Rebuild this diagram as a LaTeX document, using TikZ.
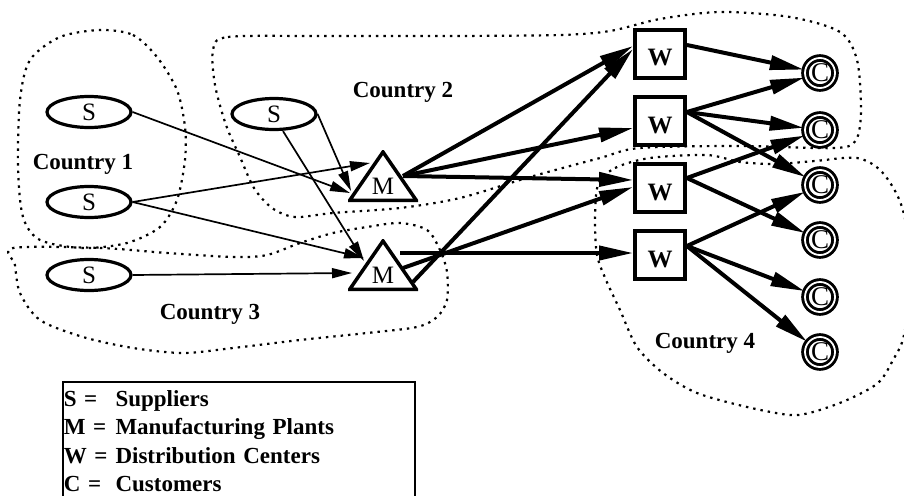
\documentclass[tikz,border=0pt]{standalone}
\usepackage{fontspec}
\setmainfont{Liberation Serif}
\usetikzlibrary{shapes.geometric,arrows.meta}

\newcommand{\netfont}{\fontsize{23}{28.3}\selectfont}
\newcommand{\tagfont}{\fontsize{25}{28}\selectfont}

\tikzset{
  supplier/.style={ellipse, draw, line width=3.2pt, minimum width=84pt, minimum height=31pt, inner sep=0pt,
    font=\tagfont},
  plant/.style={minimum width=70pt, minimum height=52pt, inner sep=0pt, text height=36pt, text depth=0pt,
    font=\tagfont,
    path picture={\draw[line width=3.5pt]
      ([shift={(1.75pt,1.75pt)}]path picture bounding box.south west) --
      ([shift={(-1.75pt,1.75pt)}]path picture bounding box.south east) --
      ([yshift=-2pt]path picture bounding box.north) -- cycle;}},
  depot/.style={rectangle, draw, line width=3.8pt, minimum width=50pt, minimum height=48pt, inner sep=0pt,
    font=\tagfont\bfseries, text height=24pt, text depth=0pt},
  customer/.style={circle, draw, double, double distance=1.8pt, line width=2.9pt, minimum size=30pt, inner sep=0pt,
    font=\fontsize{27}{28}\selectfont},
  region/.style={dash pattern=on 2.4pt off 5pt, line width=2.2pt},
  country/.style={font=\netfont\bfseries},
  feed/.style={line width=1.7pt, -{Triangle[length=20pt,width=10pt]}},
  ship/.style={line width=4pt, -{Triangle[length=34pt,width=14pt]}}
}

\begin{document}
\begin{tikzpicture}[x=1pt, y=-1pt, font=\netfont]
        \useasboundingbox (0,0) rectangle (904,495);

        \begin{scope}
        \clip (0,0) rectangle (904,495);
        \draw [region] plot [smooth cycle] coordinates {(100,30) (133,35) (157,57) (177,90) (185,127) (185,160)
          (177,200) (160,227) (127,243) (83,248) (40,240) (23,217) (18,167) (20,100) (30,60) (60,37)};   %Country 1
        \draw [region] plot [smooth cycle] coordinates {(213,50) (228,37) (320,36) (450,36) (560,35) (610,31)
          (660,19) (720,12) (790,17) (840,32) (857,60) (861,110) (856,140) (835,148) (740,146) (640,148)
          (600,158) (530,177) (460,198) (400,208) (333,213) (295,217) (272,208) (254,188) (240,157)
          (226,125) (215,85)};                                                                         %Country 2
        \draw [region] plot [smooth cycle] coordinates {(13,248) (100,248) (167,253) (233,257) (267,255)
          (300,243) (333,233) (367,227) (400,223) (427,230) (440,250) (447,272) (447,300) (437,317)
          (417,327) (367,333) (300,340) (233,348) (183,353) (133,348) (83,337) (40,320) (20,293) (15,265)}; %Country 3
        \draw [region] plot [smooth cycle] coordinates {(598,185) (615,168) (650,158) (707,155) (740,162)
          (775,164) (815,161) (857,158) (882,172) (902,207) (912,270) (904,335) (893,360) (878,383)
          (847,400) (813,412) (790,415) (747,407) (697,393) (663,373) (637,347) (620,310) (606,280)
          (597,255) (595,220)};                                                                        %Country 4
        \end{scope}

        \node [country] (lab1) at (83,164)  {Country 1};     %
        \node [country] (lab2) at (403,92)  {Country 2};     %
        \node [country] (lab3) at (210,314) {Country 3};     %
        \node [country] (lab4) at (705,343) {Country 4};     %

        \node [supplier] (s1) at (89,112)  {S};              %suppliers
        \node [supplier] (s2) at (89,202)  {S};              %
        \node [supplier] (s3) at (89,275)  {S};              %
        \node [supplier] (s4) at (274,114) {S};              %
        \node [plant]    (m1) at (383,176) {M};              %plants
        \node [plant]    (m2) at (383,265) {M};              %
        \node [depot]    (w1) at (660,54)  {W};              %distribution centers
        \node [depot]    (w2) at (660,121) {W};              %
        \node [depot]    (w3) at (660,188) {W};              %
        \node [depot]    (w4) at (660,255) {W};              %
        \node [customer] (c1) at (820,73)  {C};              %customers
        \node [customer] (c2) at (820,130) {C};              %
        \node [customer] (c3) at (820,185) {C};              %
        \node [customer] (c4) at (820,240) {C};              %
        \node [customer] (c5) at (820,297) {C};              %
        \node [customer] (c6) at (820,352) {C};              %

        \draw [feed] (s1.east)             -- ([xshift=-33pt,yshift=-17pt]m1.center);   %S -> M
        \draw [feed] (s2.east)             -- ([xshift=-13pt,yshift=13pt]m1.center);    %
        \draw [feed] (s2.east)             -- ([xshift=-19pt,yshift=7pt]m2.center);     %
        \draw [feed] (s4.east)             -- ([xshift=-32pt,yshift=-15pt]m1.center);   %
        \draw [feed] ([xshift=9pt]s4.south) -- ([xshift=-19pt,yshift=4pt]m2.center);    %
        \draw [feed] (s3.east)             -- ([xshift=-31pt,yshift=-8pt]m2.center);    %

        \draw [ship] ([xshift=20pt]m1.center)            -- ([yshift=8pt]w1.west);     %M -> W
        \draw [ship] ([xshift=20pt]m1.center)            -- ([yshift=-7pt]w2.west);    %
        \draw [ship] ([xshift=20pt]m1.center)            -- ([yshift=8pt]w3.west);     %
        \draw [ship] ([xshift=30pt,yshift=-17pt]m2.center) -- ([yshift=5pt]w1.west);   %
        \draw [ship] ([xshift=20pt,yshift=-3pt]m2.center)  -- ([yshift=1pt]w3.west);   %
        \draw [ship] ([xshift=17pt,yshift=12pt]m2.center)  -- ([yshift=2pt]w4.west);   %

        \draw [ship] ([yshift=9pt]w1.east)  -- (c1);         %W -> C
        \draw [ship] ([yshift=9pt]w2.east)  -- (c1);         %
        \draw [ship] ([yshift=9pt]w2.east)  -- (c2);         %
        \draw [ship] ([yshift=9pt]w2.east)  -- (c3);         %
        \draw [ship] ([yshift=10pt]w3.east) -- (c2);         %
        \draw [ship] ([yshift=10pt]w3.east) -- (c4);         %
        \draw [ship] ([yshift=9pt]w4.east)  -- (c3);         %
        \draw [ship] ([yshift=9pt]w4.east)  -- (c5);         %
        \draw [ship] ([yshift=9pt]w4.east)  -- (c6);         %

        \node [draw, line width=1.5pt, anchor=north west, text width=350pt, inner xsep=1pt, inner ysep=5pt,
               align=left, font=\netfont\bfseries] (key) at (62,381)
          {\begin{tabular}{@{}l@{\hspace{8pt}}l@{}}
             S = & Suppliers\\
             M = & Manufacturing Plants\\
             W = & Distribution Centers\\
             C = & Customers
           \end{tabular}};                                    %legend
\end{tikzpicture}
\end{document}
